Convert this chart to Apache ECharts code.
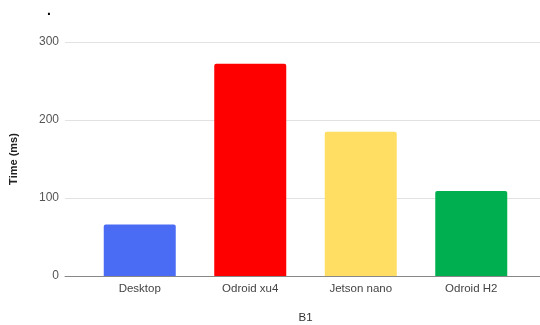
<!DOCTYPE html>
<html><head><meta charset="utf-8">
<script src="https://cdn.jsdelivr.net/npm/echarts@6/dist/echarts.min.js"></script>
<style>html,body{margin:0;padding:0;background:#fff}#c{width:540px;height:325px}</style>
</head><body><div id="c"></div>
<script>
const categories = ["Desktop", "Odroid xu4", "Jetson nano", "Odroid H2"];
const values = [66, 272, 185, 109];
const barColors = ["#4A6CF5", "#FF0000", "#FFDE63", "#00B050"];
const yTicks = [0, 100, 200, 300];

const chart = echarts.init(document.getElementById('c'), null, {renderer: 'canvas'});
const font = "'Liberation Sans', Arial, sans-serif";
chart.setOption({
  animation: false,
  backgroundColor: '#fff',
  title: {text: '.', left: 42, top: -1, textStyle: {fontSize: 14, fontWeight: 'bold', color: '#000', fontFamily: font}},
  grid: [
    {left: 65, right: 0, top: 42, bottom: 49, outerBoundsMode: 'none', containLabel: false},
    {left: 84.5, right: 13.5, top: 42, bottom: 49, outerBoundsMode: 'none', containLabel: false}
  ],
  xAxis: [
    {gridIndex: 0, type: 'value', min: 0, max: 1, show: true,
     axisLine: {show: true, lineStyle: {color: '#888', width: 1}},
     axisTick: {show: false}, axisLabel: {show: false}, splitLine: {show: false}},
    {gridIndex: 1, type: 'category', data: categories,
     axisLine: {show: false}, axisTick: {show: false},
     axisLabel: {color: '#444', fontSize: 11.5, fontFamily: font, margin: 7},
     name: 'B1', nameLocation: 'middle', nameGap: 36,
     nameTextStyle: {color: '#333', fontSize: 11.5, fontFamily: font}}
  ],
  yAxis: [
    {gridIndex: 0, type: 'value', min: yTicks[0], max: yTicks[yTicks.length-1], interval: 100,
     axisLine: {show: false}, axisTick: {show: false},
     axisLabel: {color: '#555', fontSize: 12, fontFamily: font, margin: 6},
     splitLine: {lineStyle: {color: '#e2e2e2', width: 1}},
     name: 'Time (ms)', nameLocation: 'middle', nameGap: 46, nameRotate: 90,
     nameTextStyle: {color: '#222', fontSize: 11, fontWeight: 'bold', fontFamily: font}},
    {gridIndex: 1, type: 'value', min: 0, max: 300, interval: 100, show: false}
  ],
  series: [{
    type: 'bar', xAxisIndex: 1, yAxisIndex: 1,
    data: values.map((v, i) => ({value: v, itemStyle: {color: barColors[i]}})),
    barWidth: 72,
    itemStyle: {borderRadius: [2, 2, 0, 0]}
  }]
});
</script></body></html>
